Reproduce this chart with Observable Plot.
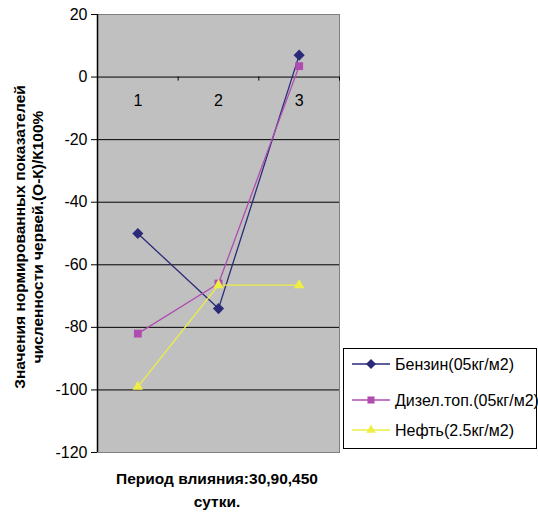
<!DOCTYPE html>
<html>
<head>
<meta charset="utf-8">
<script src="https://cdn.jsdelivr.net/npm/d3@7"></script>
<script src="https://cdn.jsdelivr.net/npm/@observablehq/plot@0.6"></script>
<style>
  html, body { margin: 0; padding: 0; background: #fff; }
  #chart { position: relative; width: 538px; height: 512px; }
</style>
</head>
<body>
<div id="chart"></div>
<script>
const categories = ["1", "2", "3"];
const seriesNames = ["Бензин(05кг/м2)", "Дизел.топ.(05кг/м2)", "Нефть(2.5кг/м2)"];
const benzin = [-50, -74, 7];
const dizel = [-82, -66, 3.5];
const neft = [-99, -66.5, -66.5];
const yTicks = [20, 0, -20, -40, -60, -80, -100, -120];
const yTitle = ["Значения нормированных показателей", "численности червей.(О-К)/К100%"];
const xTitle = ["Период влияния:30,90,450", "сутки."];

const colors = ["#2a2a78", "#b04cb0", "#eeee44"];
const symbols = ["diamond2", "square2", "triangle2"];
const seriesValues = [benzin, dizel, neft];

const data = [];
seriesValues.forEach((vals, s) => {
  vals.forEach((v, i) => data.push({series: seriesNames[s], x: i + 1, cat: categories[i], y: v}));
});

const W = 538, H = 512;
const mL = 97, mR = 199, mT = 14, mB = 60;

const plot = Plot.plot({
  width: W, height: H,
  marginLeft: mL, marginRight: mR, marginTop: mT, marginBottom: mB,
  style: {fontFamily: "'Liberation Sans', Arial, sans-serif", fontSize: "16px", color: "#000", background: "#fff"},
  x: {domain: [0.5, 3.5], axis: null},
  y: {domain: [-120, 20], axis: null},
  color: {domain: seriesNames, range: colors},
  symbol: {domain: seriesNames, range: symbols},
  marks: [
    Plot.frame({fill: "#c0c0c0", stroke: "#808080"}),
    Plot.ruleY(yTicks.filter(t => t > -120 && t < 20), {stroke: "#000", strokeWidth: 1}),
    Plot.ruleX([1.5, 2.5, 3.5], {y1: 0, y2: 0, insetBottom: -4, stroke: "#000"}),
    Plot.text(categories, {x: (d, i) => i + 1, y: 0, dy: 24, text: d => d, fontSize: 16, fill: "#000"}),
    Plot.axisY({ticks: yTicks, tickSize: 6, tickPadding: 4, tickFormat: d => String(d), label: null, fontSize: 16}),
    Plot.ruleX([0.5], {stroke: "#000", strokeWidth: 1.5}),
    Plot.line(data, {x: "x", y: "y", z: "series", stroke: "series", strokeWidth: 1.3}),
    Plot.dot(data, {x: "x", y: "y", symbol: "series", fill: "series", r: 5, stroke: "none"})
  ]
});

const svg = d3.select(plot);
const font = "'Liberation Sans', Arial, sans-serif";

// y title
const yt = svg.append("g").attr("transform", "translate(20,237) rotate(-90)")
  .attr("font-family", font).attr("font-weight", "bold").attr("font-size", 15.5).attr("text-anchor", "middle");
yt.append("text").attr("x", 0).attr("y", 0).attr("dy", "0.35em").text(yTitle[0]);
yt.append("text").attr("x", 0).attr("y", 18).attr("dy", "0.35em").text(yTitle[1]);

// x title
const xt = svg.append("g").attr("font-family", font).attr("font-weight", "bold").attr("font-size", 15.5).attr("text-anchor", "middle");
xt.append("text").attr("x", 217).attr("y", 479).attr("dy", "0.35em").text(xTitle[0]);
xt.append("text").attr("x", 217).attr("y", 502).attr("dy", "0.35em").text(xTitle[1]);

// legend
const lg = svg.append("g").attr("font-family", font).attr("font-size", 16).attr("text-anchor", "start");
lg.append("rect").attr("x", 343.5).attr("y", 348.5).attr("width", 193).attr("height", 100)
  .attr("fill", "#fff").attr("stroke", "#000");
const ly = [364, 400, 430];
seriesNames.forEach((name, i) => {
  lg.append("line").attr("x1", 352).attr("x2", 390).attr("y1", ly[i]).attr("y2", ly[i])
    .attr("stroke", colors[i]).attr("stroke-width", 1.3);
  lg.append("path").attr("transform", `translate(371,${ly[i]})`)
    .attr("d", d3.symbol(i === 0 ? d3.symbolDiamond2 : i === 1 ? d3.symbolSquare2 : d3.symbolTriangle2, 64)())
    .attr("fill", colors[i]);
  lg.append("text").attr("x", 395).attr("y", ly[i]).attr("dy", "0.35em").text(name);
});

document.getElementById("chart").appendChild(plot);
</script>
</body>
</html>
